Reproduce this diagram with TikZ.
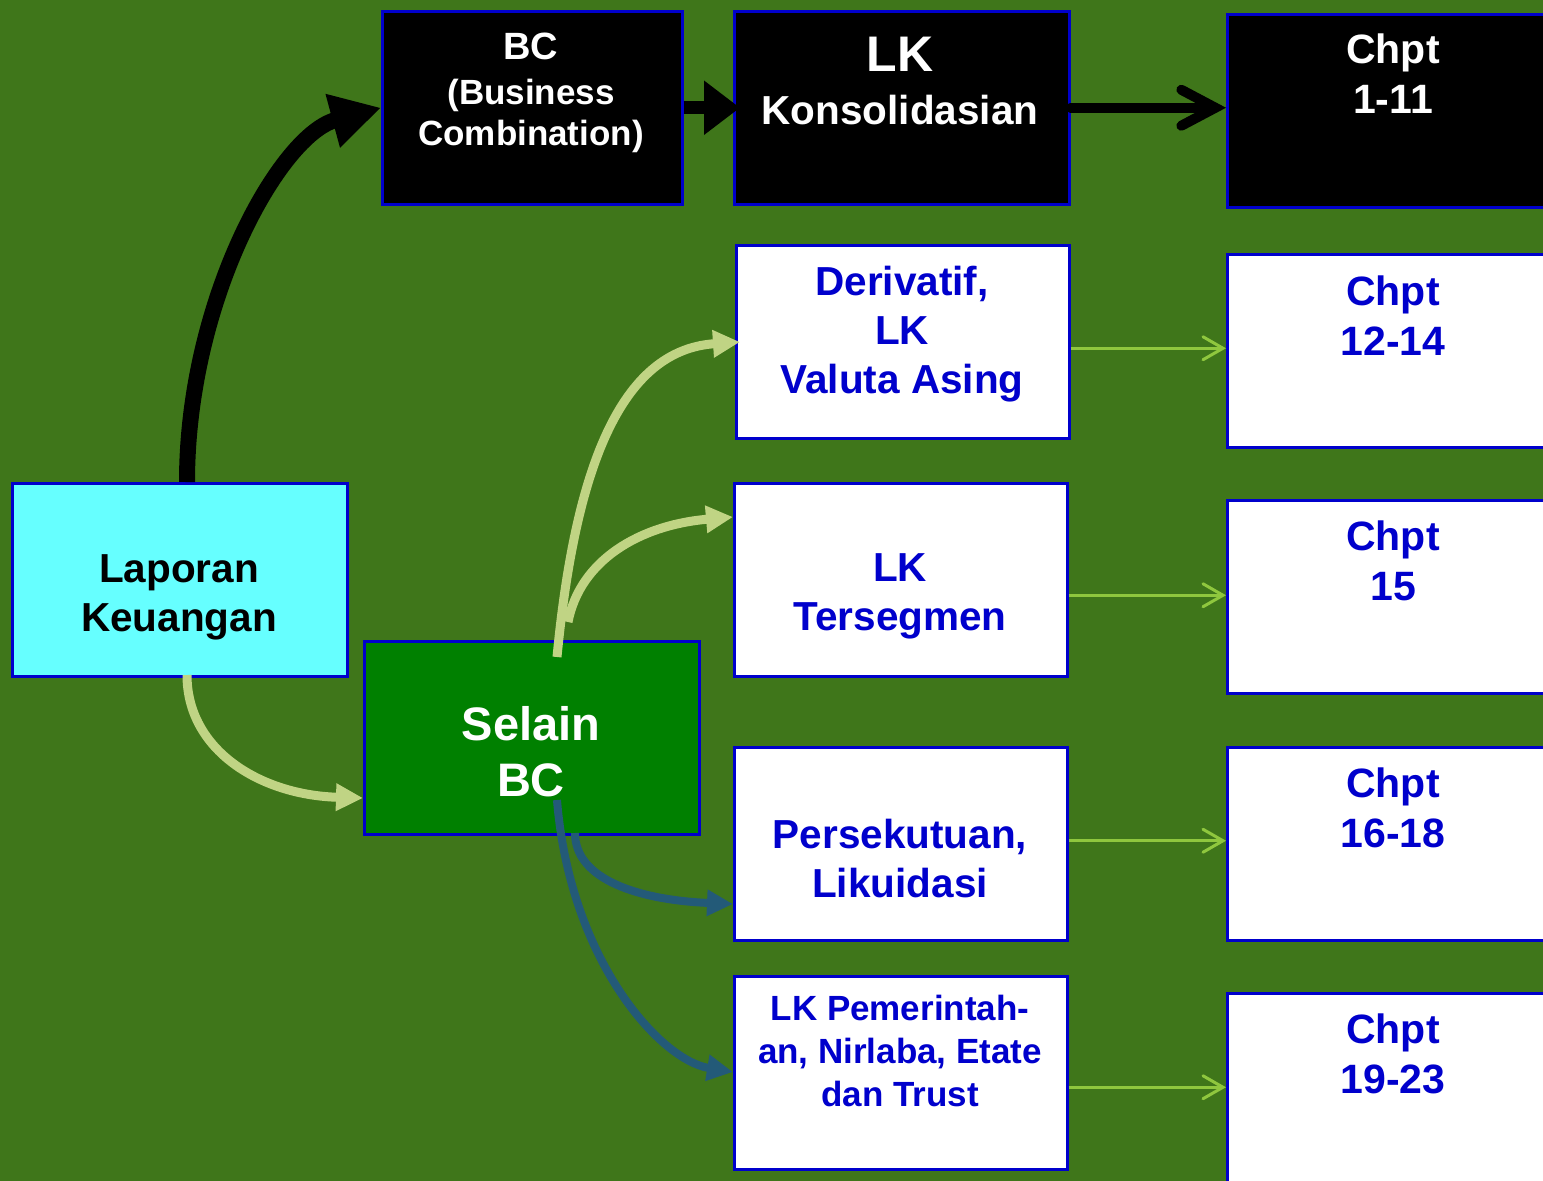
\documentclass[tikz,border=0pt]{standalone}
\usepackage{fontspec}
\setmainfont{Liberation Sans}
\usetikzlibrary{arrows.meta}
\definecolor{bg}{HTML}{3F761A}
\definecolor{edgeblue}{HTML}{0000CC}
\definecolor{cyanbox}{HTML}{66FFFF}
\definecolor{selgreen}{HTML}{008000}
\definecolor{palegreen}{HTML}{C0D484}
\definecolor{deepteal}{HTML}{235A78}
\definecolor{limeline}{HTML}{8FC73E}
\definecolor{bluetext}{HTML}{0000CC}
\begin{document}
\begin{tikzpicture}[x=1pt,y=-1pt,
  box/.style={draw=edgeblue, line width=2.5pt, inner sep=0pt, anchor=north west,
    minimum width=#1, minimum height=193pt},
  box/.default=333pt,
  darkbox/.style={box=#1, fill=black},
  darkbox/.default=333pt,
  whitebox/.style={box, fill=white},
  lbl/.style={inner sep=0pt, align=center, font=\bfseries\fontsize{40.5}{49}\selectfont},
  wlbl/.style={lbl, text=white},
  blbl/.style={lbl, text=bluetext},
  chlbl/.style={blbl, font=\bfseries\fontsize{41}{50}\selectfont},
  bigblack/.style={line width=16pt, black, -{Triangle[length=50pt,width=52pt]}},
  paleflow/.style={line width=9pt, palegreen, -{Triangle[length=27pt,width=26pt]}},
  tealflow/.style={line width=8pt, deepteal, -{Triangle[length=26pt,width=25pt]}},
  thin/.style={line width=3pt, limeline, -{Straight Barb[length=20pt,width=23pt,line cap=round]}}
]
\useasboundingbox (0,0) rectangle (1543,1181);
\clip (0,0) rectangle (1543,1181);
\fill[bg] (0,0) rectangle (1543,1181);

% boxes
\node[darkbox=300pt] (bc) at (381,10) {};
\node[darkbox=335pt] (lk) at (733,10) {};
\node[darkbox=340pt] (c1) at (1226,13) {};
\node[whitebox] (der) at (735,244) {};
\node[whitebox, minimum width=340pt] (c2) at (1226,253) {};
\node[whitebox] (seg) at (733,482) {};
\node[whitebox, minimum width=340pt] (c3) at (1226,499) {};
\node[whitebox] (per) at (733,746) {};
\node[whitebox, minimum width=340pt] (c4) at (1226,746) {};
\node[whitebox] (pem) at (733,975) {};
\node[whitebox, minimum width=340pt] (c5) at (1226,992) {};
\node[box=335pt, fill=cyanbox] (lap) at (11,482) {};
\node[box=335pt, fill=selgreen] (sel) at (363,640) {};

% texts
\node[wlbl, font=\bfseries\fontsize{38}{44}\selectfont] (bc-a) at (531,46) {BC};
\node[wlbl, font=\bfseries\fontsize{35}{41}\selectfont] (bc-b) at (531,116) {(Business\\Combination)};
\node[wlbl, font=\bfseries\fontsize{50}{56}\selectfont] (lk-a) at (900,54) {LK};
\node[wlbl] (lk-b) at (900,110) {Konsolidasian};
\node[wlbl, font=\bfseries\fontsize{41}{50}\selectfont] (c1-t) at (1393,74) {Chpt\\1-11};
\node[blbl] (der-t) at (902,334) {Derivatif,\\LK\\Valuta Asing};
\node[chlbl] (c2-t) at (1393,316) {Chpt\\12-14};
\node[blbl] (seg-t) at (900,596) {LK\\Tersegmen};
\node[chlbl] (c3-t) at (1393,561) {Chpt\\15};
\node[blbl] (per-t) at (900,859) {Persekutuan,\\Likuidasi};
\node[chlbl] (c4-t) at (1393,808) {Chpt\\16-18};
\node[blbl, font=\bfseries\fontsize{35}{43}\selectfont] (pem-t) at (900,1051) {LK Pemerintah-\\an, Nirlaba, Etate\\dan Trust};
\node[chlbl] (c5-t) at (1393,1054) {Chpt\\19-23};
\node[lbl] (lap-t) at (179,597) {Laporan\\Keuangan};
\node[wlbl, font=\bfseries\fontsize{47}{56}\selectfont] (sel-t) at (531,752) {Selain\\BC};

% free ends of the curved connectors
\coordinate (lapup) at (187,482);
\coordinate (lapdown) at (187,675);
\coordinate (selin) at (363,798);
\coordinate (selup) at (557,657);
\coordinate (fork) at (568,622);
\coordinate (derin) at (740,342);
\coordinate (segin) at (733,517);
\coordinate (seldown) at (557,800);
\coordinate (selside) at (575,833);
\coordinate (perin) at (733,904);
\coordinate (pemin) at (733,1072);

% heavy black connectors
\draw[bigblack] (lapup) .. controls (187,300) and (280,135) .. (bc.west);
\draw[line width=13pt, black, -{Triangle[length=36pt,width=52pt]}] (bc.east) -- ([xshift=7pt]lk.west);
\draw[line width=10pt, black, line cap=round, -{Straight Barb[length=34pt,width=36pt,line cap=round]}] (lk.east) -- (lk.east -| c1.west);

% pale green connectors
\draw[paleflow] (lapdown) .. controls (187,750) and (260,795) .. (selin);
\draw[paleflow] (selup) .. controls (575,470) and (620,350) .. (derin);
\draw[paleflow] (fork) .. controls (580,560) and (640,525) .. (segin);

% teal connectors
\draw[tealflow] (seldown) .. controls (570,960) and (660,1060) .. (pemin);
\draw[tealflow] (selside) .. controls (575,880) and (640,900) .. (perin);

% thin connectors to the chapter boxes
\draw[thin] ([yshift=2.5pt]der.east |- c2.west) -- ([yshift=2.5pt]c2.west);
\draw[thin] ([yshift=1.5pt]seg.east |- c3.west) -- ([yshift=1.5pt]c3.west);
\draw[thin] ([yshift=3pt]per.east |- c4.west) -- ([yshift=3pt]c4.west);
\draw[thin] ([yshift=2.5pt]pem.east |- c5.west) -- ([yshift=2.5pt]c5.west);
\end{tikzpicture}
\end{document}
